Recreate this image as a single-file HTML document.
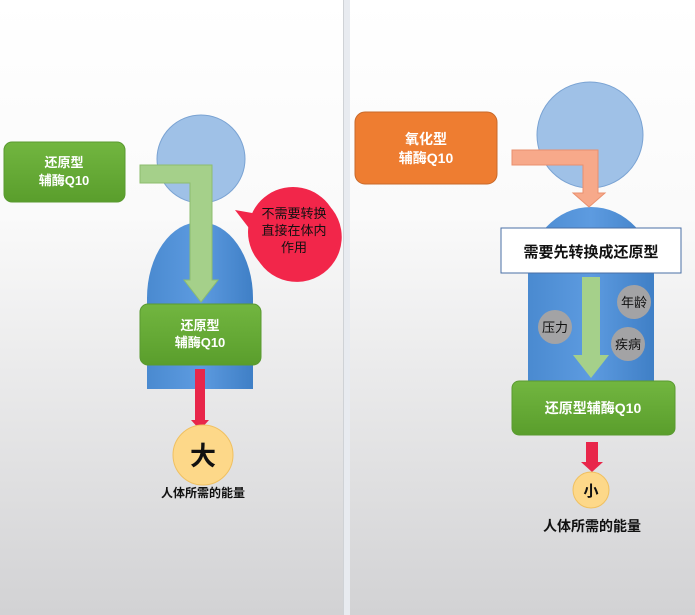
<!DOCTYPE html>
<html><head><meta charset="utf-8"><style>
html,body{margin:0;padding:0;width:695px;height:615px;overflow:hidden;background:#fff}
text{font-family:"Liberation Sans","Noto Sans CJK SC",sans-serif}
</style></head><body>
<svg width="695" height="615" viewBox="0 0 695 615" xmlns="http://www.w3.org/2000/svg">
<defs>
<linearGradient id="bg" x1="0" y1="0" x2="0" y2="1">
<stop offset="0" stop-color="#ffffff"/><stop offset="0.35" stop-color="#fafafa"/><stop offset="1" stop-color="#d2d2d4"/></linearGradient>
<linearGradient id="body" x1="0" y1="0" x2="1" y2="0">
<stop offset="0" stop-color="#4a8ad0"/><stop offset="0.5" stop-color="#5d9be0"/><stop offset="1" stop-color="#3f7fc6"/></linearGradient>
<linearGradient id="grn" x1="0" y1="0" x2="0" y2="1">
<stop offset="0" stop-color="#72b640"/><stop offset="1" stop-color="#5a9e2c"/></linearGradient>
</defs>
<rect x="0" y="0" width="695" height="615" fill="url(#bg)"/>
<rect x="344" y="0" width="6" height="615" fill="#e8ebf0"/>
<rect x="343" y="0" width="1" height="615" fill="#cfd2d6"/>

<!-- LEFT -->
<rect x="4" y="142" width="121" height="60" rx="8" fill="url(#grn)" stroke="#5a9a30"/>
<text x="64" y="167" font-size="13" font-weight="bold" fill="#fff" text-anchor="middle">还原型</text>
<text x="64" y="185" font-size="13" font-weight="bold" fill="#fff" text-anchor="middle">辅酶Q10</text>
<circle cx="201" cy="159" r="44" fill="#9fc1e7" stroke="#7aa3d3"/>
<path d="M147 389 L147 298 A53 76 0 0 1 253 298 L253 389 Z" fill="url(#body)"/>
<path d="M140 165 L212 165 L212 280 L218 280 L201 302 L184 280 L190 280 L190 183 L140 183 Z" fill="#a5d08a" stroke="#8dbd6e"/>
<rect x="140" y="304" width="121" height="61" rx="8" fill="url(#grn)" stroke="#5a9a30"/>
<text x="200" y="330" font-size="13" font-weight="bold" fill="#fff" text-anchor="middle">还原型</text>
<text x="200" y="347" font-size="13" font-weight="bold" fill="#fff" text-anchor="middle">辅酶Q10</text>
<path d="M195 369 L205 369 L205 420 L209 420 L200 430 L191 420 L195 420 Z" fill="#e8264a"/>
<circle cx="203" cy="455" r="30" fill="#fdd889" stroke="#f0c060"/>
<text x="203" y="465" font-size="26" font-weight="bold" fill="#111" text-anchor="middle">大</text>
<text x="203" y="497" font-size="12" font-weight="bold" fill="#111" text-anchor="middle">人体所需的能量</text>
<path d="M235 210 L258 214 A45 45 0 1 1 252 232 Z" fill="#f2264a"/>
<circle cx="293" cy="232" r="45" fill="#f2264a"/>
<text x="294" y="218" font-size="13" fill="#111" text-anchor="middle">不需要转换</text>
<text x="294" y="235" font-size="13" fill="#111" text-anchor="middle">直接在体内</text>
<text x="294" y="252" font-size="13" fill="#111" text-anchor="middle">作用</text>

<!-- RIGHT -->
<rect x="355" y="112" width="142" height="72" rx="10" fill="#ee7d31" stroke="#c8692a"/>
<text x="426" y="144" font-size="14" font-weight="bold" fill="#fff" text-anchor="middle">氧化型</text>
<text x="426" y="163" font-size="14" font-weight="bold" fill="#fff" text-anchor="middle">辅酶Q10</text>
<circle cx="590" cy="135" r="53" fill="#9fc1e7" stroke="#7aa3d3"/>
<path d="M528 385 L528 275 A63 68 0 0 1 654 275 L654 385 Z" fill="url(#body)"/>
<path d="M512 150 L598 150 L598 193 L605 193 L589 207 L573 193 L583 193 L583 165 L512 165 Z" fill="#f7a98a" stroke="#e9906e"/>
<rect x="501" y="228" width="180" height="45" fill="#fff" stroke="#4a6fa5"/>
<text x="591" y="257" font-size="15" font-weight="bold" fill="#111" text-anchor="middle">需要先转换成还原型</text>
<path d="M582 277 L600 277 L600 355 L609 355 L591 378 L573 355 L582 355 Z" fill="#a5d08a"/>
<circle cx="555" cy="327" r="17" fill="#a3a3a5"/>
<text x="555" y="332" font-size="13" fill="#111" text-anchor="middle">压力</text>
<circle cx="634" cy="302" r="17" fill="#a3a3a5"/>
<text x="634" y="307" font-size="13" fill="#111" text-anchor="middle">年龄</text>
<circle cx="628" cy="344" r="17" fill="#a3a3a5"/>
<text x="628" y="349" font-size="13" fill="#111" text-anchor="middle">疾病</text>
<rect x="512" y="381" width="163" height="54" rx="7" fill="url(#grn)" stroke="#5a9a30"/>
<text x="593" y="413" font-size="14" font-weight="bold" fill="#fff" text-anchor="middle">还原型辅酶Q10</text>
<path d="M586 442 L598 442 L598 462 L603 462 L592 472 L581 462 L586 462 Z" fill="#e8264a"/>
<circle cx="591" cy="490" r="18" fill="#fdd889" stroke="#f0c060"/>
<text x="591" y="496" font-size="15" font-weight="bold" fill="#111" text-anchor="middle">小</text>
<text x="592" y="531" font-size="14" font-weight="bold" fill="#111" text-anchor="middle">人体所需的能量</text>
</svg>
</body></html>
